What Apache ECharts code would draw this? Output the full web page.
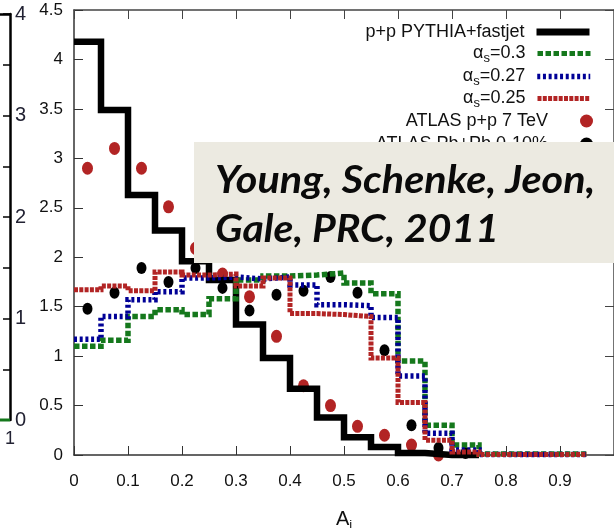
<!DOCTYPE html>
<html>
<head>
<meta charset="utf-8">
<script src="https://cdn.jsdelivr.net/npm/echarts@6/dist/echarts.min.js"></script>
<style>
  html, body { margin: 0; padding: 0; background: #fff; }
  #chart { width: 614px; height: 528px; }
</style>
</head>
<body>
<div id="chart"></div>
<script>
// Dijet asymmetry A_j distributions, histogram bins of width 0.05 starting at 0
const binWidth = 0.05;
const pythiaBins = [4.18, 3.49, 2.63, 2.27, 1.96, 1.77, 1.32, 0.98, 0.67, 0.38, 0.18, 0.08, 0.02, 0.0, 0.0];
const alpha030Bins = [1.10, 1.16, 1.40, 1.47, 1.42, 1.58, 1.77, 1.81, 1.82, 1.84, 1.74, 1.63, 0.95, 0.30, 0.10, 0.01, 0.01, 0.01, 0.01];
const alpha027Bins = [1.17, 1.40, 1.57, 1.65, 1.79, 1.80, 1.78, 1.80, 1.72, 1.52, 1.51, 1.39, 0.80, 0.22, 0.05, 0.005, 0.005, 0.005, 0.005];
const alpha025Bins = [1.67, 1.71, 1.66, 1.85, 1.82, 1.83, 1.71, 1.79, 1.43, 1.42, 1.40, 0.98, 0.53, 0.15, 0.03, 0.005, 0.005, 0.005, 0.005];

// ATLAS points at bin centres
const atlasX = [0.025, 0.075, 0.125, 0.175, 0.225, 0.275, 0.325, 0.375, 0.425, 0.475, 0.525, 0.575, 0.625, 0.675, 0.725];
const atlasPP = [2.90, 3.10, 2.90, 2.51, 2.09, 1.83, 1.60, 1.20, 0.70, 0.50, 0.29, 0.20, 0.10, 0.0];
const atlasPbPb = [1.48, 1.64, 1.89, 1.75, 1.89, 1.69, 1.46, 1.62, 1.66, 1.80, 1.64, 1.06, 0.30, 0.07, 0.02];

// Tail of the neighbouring panel on the left
const leftPanelTail = [[0.95, 0.0], [1.0, 0.0]];

const seriesNames = ['p+p PYTHIA+fastjet', 'αs=0.3', 'αs=0.27', 'αs=0.25', 'ATLAS p+p 7 TeV', 'ATLAS Pb+Pb 0-10%'];
const xTicks = [0, 0.1, 0.2, 0.3, 0.4, 0.5, 0.6, 0.7, 0.8, 0.9];
const yTicks = [0, 0.5, 1, 1.5, 2, 2.5, 3, 3.5, 4, 4.5];
const creditLines = ['Young, Schenke, Jeon,', 'Gale, PRC, 2011'];

const FONT = 'Liberation Sans, Arial, sans-serif';
const CREDIT_FONT = 'italic bold 39px Lato, sans-serif';
const ELLIPSE = 'path://M0,-1A1,1,0,1,1,0,1A1,1,0,1,1,0,-1Z';

function stepPoints(bins) {
  const pts = bins.map((v, i) => [+(i * binWidth).toFixed(2), v]);
  pts.push([+(bins.length * binWidth).toFixed(2), bins[bins.length - 1]]);
  return pts;
}
function pointPairs(xs, ys) {
  return ys.map((v, i) => [xs[i], v]);
}
function fmtTick(list) {
  return v => {
    const hit = list.find(t => Math.abs(t - v) < 1e-6);
    return hit === undefined ? '' : String(hit);
  };
}

const chart = echarts.init(document.getElementById('chart'), null, { renderer: 'canvas' });

const stepLine = (name, bins, color, width, type) => ({
  name, type: 'line', step: 'end', xAxisIndex: 0, yAxisIndex: 0,
  data: stepPoints(bins), symbol: 'none', clip: false, silent: true,
  lineStyle: { color, width, type, cap: 'butt', join: 'miter' },
  itemStyle: { color }
});

const legendRows = [33, 54.5, 77.5, 99.5, 122, 145];
const legendWidths = [7, 5, 5.5, 5, 0, 0];
const legends = seriesNames.map((name, i) => {
  const item = { name };
  if (i < 4) {
    item.lineStyle = { width: legendWidths[i] };
    item.itemStyle = { color: 'rgba(0,0,0,0)', borderWidth: 0 };
  } else {
    item.icon = 'circle';
  }
  return {
    data: [item],
    orient: 'vertical', align: 'right', right: 21, top: legendRows[i] - 10,
    padding: 0, itemGap: 0, itemWidth: 53, itemHeight: 13, selectedMode: false,
    formatter: n => n.startsWith('αs') ? '{a|α}{s|s}{a|' + n.slice(2) + '}' : n,
    textStyle: {
      fontFamily: FONT, fontSize: 18, color: '#111', padding: [0, 7, 0, 0],
      rich: {
        a: { fontFamily: FONT, fontSize: 18, color: '#111' },
        s: { fontFamily: FONT, fontSize: 13, color: '#111', padding: [10, 0, 0, 0] }
      }
    }
  };
});

const frameLine = (color, width) => ({ show: true, onZero: false, lineStyle: { color, width } });

chart.setOption({
  animation: false,
  backgroundColor: '#fff',
  grid: [
    { left: 74, top: 10, width: 540, height: 445, outerBoundsMode: 'none', containLabel: false },
    { left: -200, top: 14, width: 210, height: 406, outerBoundsMode: 'none', containLabel: false }
  ],
  legend: legends,
  xAxis: [
    {
      gridIndex: 0, type: 'value', position: 'bottom', min: 0, max: 1, interval: 0.1,
      axisLine: frameLine('#333', 1.5),
      axisTick: { inside: true, length: 9, lineStyle: { color: '#333', width: 1 } },
      axisLabel: { margin: 18, fontSize: 17, fontFamily: FONT, color: '#111', formatter: fmtTick(xTicks) },
      splitLine: { show: false },
      name: '{a|A}{j|j}', nameLocation: 'middle', nameGap: 52,
      nameTextStyle: {
        rich: {
          a: { fontFamily: FONT, fontSize: 20, color: '#111' },
          j: { fontFamily: FONT, fontSize: 13, color: '#111', padding: [12, 0, 0, 0] }
        }
      }
    },
    {
      gridIndex: 0, type: 'value', position: 'top', min: 0, max: 1, interval: 0.1,
      axisLine: frameLine('#444', 1.5),
      axisTick: { inside: true, length: 9, lineStyle: { color: '#444', width: 1 } },
      axisLabel: { show: false }, splitLine: { show: false }
    },
    {
      gridIndex: 1, type: 'value', position: 'bottom', min: 0, max: 1, interval: 1,
      axisLine: { show: false, onZero: false }, axisTick: { show: false },
      axisLabel: { margin: 10, fontSize: 18, fontFamily: FONT, color: '#223', formatter: v => v === 1 ? '1' : '' },
      splitLine: { show: false }
    },
    {
      gridIndex: 1, type: 'value', position: 'top', min: 0, max: 1,
      axisLine: frameLine('#000', 2.5),
      axisTick: { show: false }, axisLabel: { show: false }, splitLine: { show: false }
    }
  ],
  yAxis: [
    {
      gridIndex: 0, type: 'value', position: 'left', min: 0, max: 4.5, interval: 0.5,
      axisLine: frameLine('#333', 1.5),
      axisTick: { show: true, inside: true, length: 9, lineStyle: { color: '#333', width: 1 } },
      axisLabel: { margin: 11, fontSize: 17, fontFamily: FONT, color: '#111', formatter: fmtTick(yTicks) },
      splitLine: { show: false }
    },
    {
      gridIndex: 0, type: 'value', position: 'right', min: 0, max: 4.5, interval: 0.5,
      axisLine: frameLine('#444', 1.5),
      axisTick: { show: true, inside: true, length: 9, lineStyle: { color: '#444', width: 1 } },
      axisLabel: { show: false }, splitLine: { show: false }
    },
    {
      gridIndex: 1, type: 'value', position: 'right', min: 0, max: 4, interval: 0.5,
      axisLine: frameLine('#000', 2.5),
      axisTick: { show: true, inside: true, length: 7, lineStyle: { color: '#000', width: 1.5 } },
      axisLabel: { margin: 5, fontSize: 20, fontFamily: FONT, color: '#223',
        formatter: v => Number.isInteger(v) ? String(v) : '' },
      splitLine: { show: false }
    }
  ],
  series: [
    stepLine(seriesNames[0], pythiaBins, '#000000', 6.5, 'solid'),
    stepLine(seriesNames[1], alpha030Bins, '#15781c', 5.5, [5.5, 2.5]),
    stepLine(seriesNames[2], alpha027Bins, '#000096', 5.5, [3, 2.7]),
    stepLine(seriesNames[3], alpha025Bins, '#b22424', 5, [4, 1.3]),
    {
      name: seriesNames[4], type: 'scatter', xAxisIndex: 0, yAxisIndex: 0, silent: true, clip: false,
      data: pointPairs(atlasX, atlasPP), symbol: ELLIPSE, symbolSize: [11, 13],
      itemStyle: { color: '#b22424', opacity: 1 }
    },
    {
      name: seriesNames[5], type: 'scatter', xAxisIndex: 0, yAxisIndex: 0, silent: true, clip: false,
      data: pointPairs(atlasX, atlasPbPb), symbol: ELLIPSE, symbolSize: [10, 12],
      itemStyle: { color: '#000000', opacity: 1 }
    },
    {
      name: 'left-tail', type: 'line', xAxisIndex: 2, yAxisIndex: 2, data: leftPanelTail,
      symbol: 'none', clip: false, silent: true,
      lineStyle: { color: '#15781c', width: 3 }
    }
  ],
  graphic: [
    {
      type: 'group', z: 200, silent: true,
      children: [
        { type: 'rect', z: 200, shape: { x: 194, y: 142, width: 420, height: 121 }, style: { fill: '#ECEAE1' } },
        { type: 'text', z: 201, scaleX: 1.06, originX: 215, style: { x: 215, y: 180.5, text: creditLines[0], font: CREDIT_FONT, fill: '#0a0a0a', verticalAlign: 'middle' } },
        { type: 'text', z: 201, scaleX: 1.05, originX: 215, style: { x: 215, y: 229.5, text: creditLines[1], font: CREDIT_FONT, fill: '#0a0a0a', verticalAlign: 'middle' } }
      ]
    }
  ]
});
</script>
</body>
</html>
